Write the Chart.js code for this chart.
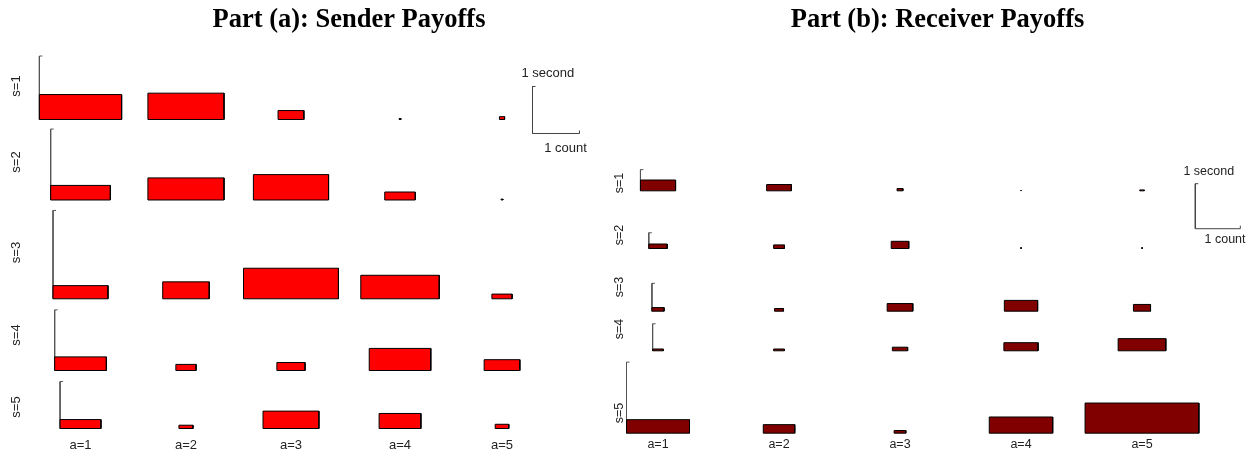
<!DOCTYPE html>
<html>
<head>
<meta charset="utf-8">
<title>Sender and Receiver Payoffs</title>
<script src="https://cdn.jsdelivr.net/npm/chart.js@4/dist/chart.umd.min.js"></script>
<style>
  html, body { margin: 0; padding: 0; background: #fff; overflow: hidden; width: 1251px; height: 456px; }
  #wrap { position: relative; width: 1251px; height: 456px; }
  canvas { position: absolute; top: 0; }
  #sender { left: 0; }
  #receiver { left: 610px; }
</style>
</head>
<body>
<div id="wrap">
  <canvas id="sender" width="698" height="456"></canvas>
  <canvas id="receiver" width="655" height="456"></canvas>
</div>
<script>
// Row (state) and column (action) categories
const states  = ['s=1', 's=2', 's=3', 's=4', 's=5'];
const actions = ['a=1', 'a=2', 'a=3', 'a=4', 'a=5'];

// Part (a): sender — rectangle width in counts, height in seconds (rows = states, cols = actions)
const senderCount = [
  [1.75, 1.62, 0.55, 0.04, 0.11],
  [1.27, 1.62, 1.60, 0.65, 0.04],
  [1.17, 0.99, 2.02, 1.67, 0.43],
  [1.10, 0.43, 0.60, 1.31, 0.76],
  [0.87, 0.30, 1.19, 0.89, 0.29]
];
const senderSeconds = [
  [0.53, 0.56, 0.19, 0.02, 0.06],
  [0.31, 0.47, 0.54, 0.17, 0.02],
  [0.28, 0.36, 0.65, 0.50, 0.10],
  [0.29, 0.13, 0.17, 0.47, 0.23],
  [0.19, 0.07, 0.37, 0.32, 0.09]
];
// height of each state's vertical reference bar, in seconds
const senderRowSpan = [1.35, 1.51, 1.88, 1.29, 1.00];

// Part (b): receiver
const receiverCount = [
  [0.78, 0.55, 0.13, 0.01, 0.10],
  [0.41, 0.24, 0.39, 0.02, 0.02],
  [0.27, 0.20, 0.57, 0.74, 0.38],
  [0.24, 0.24, 0.34, 0.76, 1.06],
  [1.40, 0.70, 0.26, 1.41, 2.53]
];
const receiverSeconds = [
  [0.24, 0.14, 0.05, 0.01, 0.02],
  [0.10, 0.08, 0.16, 0.02, 0.02],
  [0.08, 0.06, 0.17, 0.24, 0.15],
  [0.04, 0.04, 0.08, 0.18, 0.27],
  [0.30, 0.19, 0.06, 0.36, 0.67]
];
const receiverRowSpan = [0.47, 0.35, 0.62, 0.60, 1.58];

// key labels (one unit on each axis)
const keyLabels = { count: '1 count', seconds: '1 second' };

// ---- layout (axis units: counts horizontally, seconds vertically) ----
const CANVAS_H = 456;
const TITLE_H = 40;   // 31.8 line + 8.2 padding
const senderLayout = {
  px: 47, width: 698, fill: '#ff0000', font: 13,
  colX: [1.713, 3.957, 6.191, 8.511, 10.681],
  rowBase: [7.160, 5.447, 3.345, 1.819, 0.585],
  rowLabelX: 0.351,
  rowLabelY: [7.872, 6.255, 4.330, 2.574, 1.043],
  colLabelY: 0.234,
  key: { x: 11.33, y: 6.862, secondsAt: [11.655, 8.149], countAt: [12.032, 6.547] }
};
const receiverLayout = {
  px: 45, width: 655, fill: '#800000', font: 12.5,
  colX: [1.067, 3.756, 6.444, 9.133, 11.822],
  rowBase: [5.893, 4.611, 3.218, 2.338, 0.507],
  rowLabelX: 0.222,
  rowLabelY: [6.067, 4.911, 3.756, 2.822, 0.956],
  colLabelY: 0.244,
  key: { x: 13.007, y: 5.051, secondsAt: [13.307, 6.318], countAt: [13.667, 4.816] }
};

function buildDatasets(count, seconds, rowSpan, L) {
  const tick = 3 / L.px;
  const ds = [];
  states.forEach((s, i) => {
    actions.forEach((a, j) => {
      const w = count[i][j], h = seconds[i][j];
      const cx = L.colX[j], b = L.rowBase[i];
      ds.push({
        label: s + ' ' + a,
        data: [
          { x: cx - w / 2, y: b }, { x: cx - w / 2, y: b + h },
          { x: cx + w / 2, y: b + h }, { x: cx + w / 2, y: b },
          { x: cx - w / 2, y: b }
        ],
        fill: 'shape',
        backgroundColor: L.fill,
        borderColor: '#000',
        borderWidth: 1,
        order: 0
      });
    });
    // reference bar on the left edge of the a=1 rectangle
    const bx = L.colX[0] - count[i][0] / 2;
    const b = L.rowBase[i], top = b + rowSpan[i];
    ds.push({
      label: s + ' reference',
      data: [{ x: bx + tick, y: top }, { x: bx, y: top }, { x: bx, y: b }],
      fill: false,
      borderColor: '#555',
      borderWidth: 1,
      order: 1
    });
  });
  // scale key: 1 second tall, 1 count wide
  const k = L.key;
  ds.push({
    label: 'key',
    data: [
      { x: k.x + tick, y: k.y + 1 }, { x: k.x, y: k.y + 1 }, { x: k.x, y: k.y },
      { x: k.x + 1, y: k.y }, { x: k.x + 1, y: k.y + tick }
    ],
    fill: false,
    borderColor: '#444',
    borderWidth: 1,
    order: 1
  });
  return ds;
}

function labelPlugin(L) {
  return {
    id: 'panelLabels',
    afterDatasetsDraw(chart) {
      const { ctx } = chart;
      const x = chart.scales.x, y = chart.scales.y;
      ctx.save();
      ctx.fillStyle = '#222';
      ctx.font = L.font + 'px "Liberation Sans", Arial, sans-serif';
      ctx.textAlign = 'center';
      ctx.textBaseline = 'middle';
      actions.forEach((a, j) => {
        ctx.fillText(a, x.getPixelForValue(L.colX[j]), y.getPixelForValue(L.colLabelY));
      });
      states.forEach((s, i) => {
        ctx.save();
        ctx.translate(x.getPixelForValue(L.rowLabelX), y.getPixelForValue(L.rowLabelY[i]));
        ctx.rotate(-Math.PI / 2);
        ctx.fillText(s, 0, 0);
        ctx.restore();
      });
      const k = L.key;
      ctx.fillText(keyLabels.seconds, x.getPixelForValue(k.secondsAt[0]), y.getPixelForValue(k.secondsAt[1]));
      ctx.fillText(keyLabels.count, x.getPixelForValue(k.countAt[0]), y.getPixelForValue(k.countAt[1]));
      ctx.restore();
    }
  };
}

function makePanel(id, title, count, seconds, rowSpan, L) {
  return new Chart(document.getElementById(id), {
    type: 'line',
    data: { datasets: buildDatasets(count, seconds, rowSpan, L) },
    options: {
      responsive: false,
      animation: false,
      devicePixelRatio: 1,
      events: [],
      layout: { padding: 0 },
      elements: {
        point: { radius: 0, hoverRadius: 0 },
        line: { tension: 0, borderJoinStyle: 'miter', borderCapStyle: 'butt' }
      },
      plugins: {
        legend: { display: false },
        tooltip: { enabled: false },
        title: {
          display: true,
          text: title,
          color: '#000',
          font: { family: '"Liberation Serif", "Times New Roman", serif', size: 26.5, weight: 'bold', lineHeight: 1.2 },
          padding: { top: 4.6, bottom: 3.6 }
        }
      },
      scales: {
        x: { type: 'linear', display: false, min: 0, max: L.width / L.px },
        y: { type: 'linear', display: false, min: 0, max: (CANVAS_H - TITLE_H) / L.px }
      }
    },
    plugins: [labelPlugin(L)]
  });
}

makePanel('sender', 'Part (a): Sender Payoffs', senderCount, senderSeconds, senderRowSpan, senderLayout);
makePanel('receiver', 'Part (b): Receiver Payoffs', receiverCount, receiverSeconds, receiverRowSpan, receiverLayout);
</script>
</body>
</html>
